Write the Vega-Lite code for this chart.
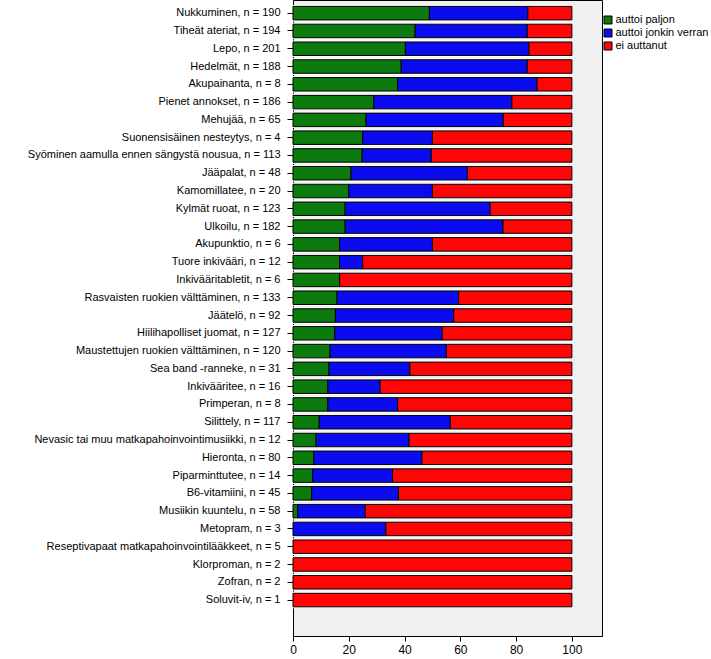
{
  "$schema": "https://vega.github.io/schema/vega-lite/v6.json",
  "autosize": "none",
  "padding": {"left": 293, "top": 0, "right": 109, "bottom": 23},
  "width": 309,
  "height": 636,
  "background": "white",
  "config": {
    "font": "Liberation Sans",
    "view": {"fill": "#f0f0f0", "stroke": "black", "strokeWidth": 1},
    "axis": {"labelColor": "black", "domainColor": "black", "tickColor": "black", "grid": false, "labelFont": "Liberation Sans"}
  },
  "data": {"values": [
    {"c": "Nukkuminen, n = 190", "r": "auttoi paljon", "o": 1, "p": 48.9},
    {"c": "Nukkuminen, n = 190", "r": "auttoi jonkin verran", "o": 2, "p": 35.3},
    {"c": "Nukkuminen, n = 190", "r": "ei auttanut", "o": 3, "p": 15.8},
    {"c": "Tiheät ateriat, n = 194", "r": "auttoi paljon", "o": 1, "p": 43.8},
    {"c": "Tiheät ateriat, n = 194", "r": "auttoi jonkin verran", "o": 2, "p": 40.2},
    {"c": "Tiheät ateriat, n = 194", "r": "ei auttanut", "o": 3, "p": 16.0},
    {"c": "Lepo, n = 201", "r": "auttoi paljon", "o": 1, "p": 40.3},
    {"c": "Lepo, n = 201", "r": "auttoi jonkin verran", "o": 2, "p": 44.3},
    {"c": "Lepo, n = 201", "r": "ei auttanut", "o": 3, "p": 15.4},
    {"c": "Hedelmät, n = 188", "r": "auttoi paljon", "o": 1, "p": 38.8},
    {"c": "Hedelmät, n = 188", "r": "auttoi jonkin verran", "o": 2, "p": 45.2},
    {"c": "Hedelmät, n = 188", "r": "ei auttanut", "o": 3, "p": 16.0},
    {"c": "Akupainanta, n = 8", "r": "auttoi paljon", "o": 1, "p": 37.5},
    {"c": "Akupainanta, n = 8", "r": "auttoi jonkin verran", "o": 2, "p": 50.0},
    {"c": "Akupainanta, n = 8", "r": "ei auttanut", "o": 3, "p": 12.5},
    {"c": "Pienet annokset, n = 186", "r": "auttoi paljon", "o": 1, "p": 29.0},
    {"c": "Pienet annokset, n = 186", "r": "auttoi jonkin verran", "o": 2, "p": 49.5},
    {"c": "Pienet annokset, n = 186", "r": "ei auttanut", "o": 3, "p": 21.5},
    {"c": "Mehujää, n = 65", "r": "auttoi paljon", "o": 1, "p": 26.2},
    {"c": "Mehujää, n = 65", "r": "auttoi jonkin verran", "o": 2, "p": 49.2},
    {"c": "Mehujää, n = 65", "r": "ei auttanut", "o": 3, "p": 24.6},
    {"c": "Suonensisäinen nesteytys, n = 4", "r": "auttoi paljon", "o": 1, "p": 25.0},
    {"c": "Suonensisäinen nesteytys, n = 4", "r": "auttoi jonkin verran", "o": 2, "p": 25.0},
    {"c": "Suonensisäinen nesteytys, n = 4", "r": "ei auttanut", "o": 3, "p": 50.0},
    {"c": "Syöminen aamulla ennen sängystä nousua, n = 113", "r": "auttoi paljon", "o": 1, "p": 24.8},
    {"c": "Syöminen aamulla ennen sängystä nousua, n = 113", "r": "auttoi jonkin verran", "o": 2, "p": 24.8},
    {"c": "Syöminen aamulla ennen sängystä nousua, n = 113", "r": "ei auttanut", "o": 3, "p": 50.4},
    {"c": "Jääpalat, n = 48", "r": "auttoi paljon", "o": 1, "p": 20.8},
    {"c": "Jääpalat, n = 48", "r": "auttoi jonkin verran", "o": 2, "p": 41.7},
    {"c": "Jääpalat, n = 48", "r": "ei auttanut", "o": 3, "p": 37.5},
    {"c": "Kamomillatee, n = 20", "r": "auttoi paljon", "o": 1, "p": 20.0},
    {"c": "Kamomillatee, n = 20", "r": "auttoi jonkin verran", "o": 2, "p": 30.0},
    {"c": "Kamomillatee, n = 20", "r": "ei auttanut", "o": 3, "p": 50.0},
    {"c": "Kylmät ruoat, n = 123", "r": "auttoi paljon", "o": 1, "p": 18.7},
    {"c": "Kylmät ruoat, n = 123", "r": "auttoi jonkin verran", "o": 2, "p": 52.0},
    {"c": "Kylmät ruoat, n = 123", "r": "ei auttanut", "o": 3, "p": 29.3},
    {"c": "Ulkoilu, n = 182", "r": "auttoi paljon", "o": 1, "p": 18.7},
    {"c": "Ulkoilu, n = 182", "r": "auttoi jonkin verran", "o": 2, "p": 56.6},
    {"c": "Ulkoilu, n = 182", "r": "ei auttanut", "o": 3, "p": 24.7},
    {"c": "Akupunktio, n = 6", "r": "auttoi paljon", "o": 1, "p": 16.7},
    {"c": "Akupunktio, n = 6", "r": "auttoi jonkin verran", "o": 2, "p": 33.3},
    {"c": "Akupunktio, n = 6", "r": "ei auttanut", "o": 3, "p": 50.0},
    {"c": "Tuore inkivääri, n = 12", "r": "auttoi paljon", "o": 1, "p": 16.7},
    {"c": "Tuore inkivääri, n = 12", "r": "auttoi jonkin verran", "o": 2, "p": 8.3},
    {"c": "Tuore inkivääri, n = 12", "r": "ei auttanut", "o": 3, "p": 75.0},
    {"c": "Inkivääritabletit, n = 6", "r": "auttoi paljon", "o": 1, "p": 16.7},
    {"c": "Inkivääritabletit, n = 6", "r": "ei auttanut", "o": 3, "p": 83.3},
    {"c": "Rasvaisten ruokien välttäminen, n = 133", "r": "auttoi paljon", "o": 1, "p": 15.8},
    {"c": "Rasvaisten ruokien välttäminen, n = 133", "r": "auttoi jonkin verran", "o": 2, "p": 43.6},
    {"c": "Rasvaisten ruokien välttäminen, n = 133", "r": "ei auttanut", "o": 3, "p": 40.6},
    {"c": "Jäätelö, n = 92", "r": "auttoi paljon", "o": 1, "p": 15.2},
    {"c": "Jäätelö, n = 92", "r": "auttoi jonkin verran", "o": 2, "p": 42.4},
    {"c": "Jäätelö, n = 92", "r": "ei auttanut", "o": 3, "p": 42.4},
    {"c": "Hiilihapolliset juomat, n = 127", "r": "auttoi paljon", "o": 1, "p": 15.0},
    {"c": "Hiilihapolliset juomat, n = 127", "r": "auttoi jonkin verran", "o": 2, "p": 38.5},
    {"c": "Hiilihapolliset juomat, n = 127", "r": "ei auttanut", "o": 3, "p": 46.5},
    {"c": "Maustettujen ruokien välttäminen, n = 120", "r": "auttoi paljon", "o": 1, "p": 13.3},
    {"c": "Maustettujen ruokien välttäminen, n = 120", "r": "auttoi jonkin verran", "o": 2, "p": 41.7},
    {"c": "Maustettujen ruokien välttäminen, n = 120", "r": "ei auttanut", "o": 3, "p": 45.0},
    {"c": "Sea band -ranneke, n = 31", "r": "auttoi paljon", "o": 1, "p": 12.9},
    {"c": "Sea band -ranneke, n = 31", "r": "auttoi jonkin verran", "o": 2, "p": 29.0},
    {"c": "Sea band -ranneke, n = 31", "r": "ei auttanut", "o": 3, "p": 58.1},
    {"c": "Inkivääritee, n = 16", "r": "auttoi paljon", "o": 1, "p": 12.5},
    {"c": "Inkivääritee, n = 16", "r": "auttoi jonkin verran", "o": 2, "p": 18.75},
    {"c": "Inkivääritee, n = 16", "r": "ei auttanut", "o": 3, "p": 68.75},
    {"c": "Primperan, n = 8", "r": "auttoi paljon", "o": 1, "p": 12.5},
    {"c": "Primperan, n = 8", "r": "auttoi jonkin verran", "o": 2, "p": 25.0},
    {"c": "Primperan, n = 8", "r": "ei auttanut", "o": 3, "p": 62.5},
    {"c": "Silittely, n = 117", "r": "auttoi paljon", "o": 1, "p": 9.4},
    {"c": "Silittely, n = 117", "r": "auttoi jonkin verran", "o": 2, "p": 47.0},
    {"c": "Silittely, n = 117", "r": "ei auttanut", "o": 3, "p": 43.6},
    {"c": "Nevasic tai muu matkapahoinvointimusiikki, n = 12", "r": "auttoi paljon", "o": 1, "p": 8.3},
    {"c": "Nevasic tai muu matkapahoinvointimusiikki, n = 12", "r": "auttoi jonkin verran", "o": 2, "p": 33.3},
    {"c": "Nevasic tai muu matkapahoinvointimusiikki, n = 12", "r": "ei auttanut", "o": 3, "p": 58.4},
    {"c": "Hieronta, n = 80", "r": "auttoi paljon", "o": 1, "p": 7.5},
    {"c": "Hieronta, n = 80", "r": "auttoi jonkin verran", "o": 2, "p": 38.75},
    {"c": "Hieronta, n = 80", "r": "ei auttanut", "o": 3, "p": 53.75},
    {"c": "Piparminttutee, n = 14", "r": "auttoi paljon", "o": 1, "p": 7.1},
    {"c": "Piparminttutee, n = 14", "r": "auttoi jonkin verran", "o": 2, "p": 28.6},
    {"c": "Piparminttutee, n = 14", "r": "ei auttanut", "o": 3, "p": 64.3},
    {"c": "B6-vitamiini, n = 45", "r": "auttoi paljon", "o": 1, "p": 6.7},
    {"c": "B6-vitamiini, n = 45", "r": "auttoi jonkin verran", "o": 2, "p": 31.1},
    {"c": "B6-vitamiini, n = 45", "r": "ei auttanut", "o": 3, "p": 62.2},
    {"c": "Musiikin kuuntelu, n = 58", "r": "auttoi paljon", "o": 1, "p": 1.7},
    {"c": "Musiikin kuuntelu, n = 58", "r": "auttoi jonkin verran", "o": 2, "p": 24.2},
    {"c": "Musiikin kuuntelu, n = 58", "r": "ei auttanut", "o": 3, "p": 74.1},
    {"c": "Metopram, n = 3", "r": "auttoi jonkin verran", "o": 2, "p": 33.3},
    {"c": "Metopram, n = 3", "r": "ei auttanut", "o": 3, "p": 66.7},
    {"c": "Reseptivapaat matkapahoinvointilääkkeet, n = 5", "r": "ei auttanut", "o": 3, "p": 100},
    {"c": "Klorproman, n = 2", "r": "ei auttanut", "o": 3, "p": 100},
    {"c": "Zofran, n = 2", "r": "ei auttanut", "o": 3, "p": 100},
    {"c": "Soluvit-iv, n = 1", "r": "ei auttanut", "o": 3, "p": 100}
  ]},
  "encoding": {
    "y": {
      "field": "c", "type": "nominal", "sort": null, "title": null,
      "scale": {"paddingInner": 0.24, "paddingOuter": 1.15, "align": 0.18},
      "axis": {"labelFontSize": 11, "tickSize": 6, "labelPadding": 7, "labelLimit": 300, "domain": true}
    },
    "x": {
      "field": "p", "type": "quantitative", "stack": "zero", "title": null,
      "scale": {"domain": [0, 110.8], "nice": false},
      "axis": {"values": [0, 20, 40, 60, 80, 100], "labelFontSize": 12, "tickSize": 5, "labelPadding": 3, "labelFlush": false}
    },
    "order": {"field": "o", "type": "quantitative"}
  },
  "layer": [
    {
      "mark": {"type": "bar", "color": "white", "height": {"band": 1.22}}
    },
    {
      "mark": {"type": "bar", "stroke": "black", "strokeWidth": 1},
      "encoding": {
        "color": {
          "field": "r", "type": "nominal",
          "scale": {"domain": ["auttoi paljon", "auttoi jonkin verran", "ei auttanut"], "range": ["#0c7a0c", "#0b0bf0", "#ff0505"]},
          "legend": {
            "title": null, "orient": "none", "legendX": 309.5, "legendY": 14.5,
            "symbolType": "square", "symbolSize": 64, "symbolStrokeColor": "black", "symbolStrokeWidth": 1,
            "labelFontSize": 11, "labelColor": "black", "labelOffset": 2, "rowPadding": 0
          }
        }
      }
    }
  ]
}
